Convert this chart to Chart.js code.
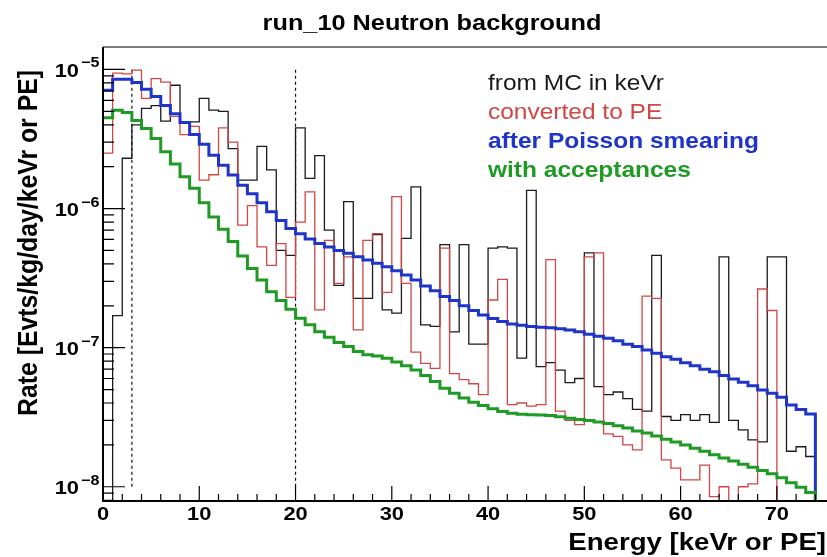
<!DOCTYPE html>
<html>
<head>
<meta charset="utf-8">
<script src="https://cdn.jsdelivr.net/npm/chart.js@4.4.1/dist/chart.umd.min.js"></script>
<style>
  body { margin: 0; background: #fff; }
  #chart { display: block; }
</style>
</head>
<body>
<canvas id="chart" width="827" height="557"></canvas>
<script>
// histogram bins: low edge of each 1 keV bin
var binLow = [];
for (var i = 0; i < 75; i++) binLow.push(i);
var xMin = 0, xMax = 75;
var yMin = 7.9e-9, yMax = 1.45e-5;

// dashed cut lines
var cutX = [3, 20];
var cutY = [1e-8, 1e-5];

// axis labels
var xTickValues = [0, 10, 20, 30, 40, 50, 60, 70];
var xTickLabels = ['0', '10', '20', '30', '40', '50', '60', '70'];
var yTickValues = [1e-8, 1e-7, 1e-6, 1e-5];
var yTickExp = ['\u22128', '\u22127', '\u22126', '\u22125'];

var seriesNames = ['from MC in keVr', 'converted to PE', 'after Poisson smearing', 'with acceptances'];

// from MC in keVr
var mcKeVr = [
  0, 1.7e-7, 2.3e-6, 4.0e-6, 5.25e-6, 5.5e-6, 4.25e-6, 7.7e-6, 4.2e-6, 4.2e-6,
  6.2e-6, 5.1e-6, 5.0e-6, 2.7e-6, 1.6e-6, 1.6e-6, 2.8e-6, 1.9e-6, 5.0e-7, 4.6e-7,
  3.8e-6, 1.65e-6, 2.4e-6, 7.0e-7, 2.8e-7, 1.12e-6, 2.26e-7, 2.26e-7, 6.5e-7, 1.87e-7,
  1.77e-7, 6.1e-7, 1.43e-6, 1.46e-7, 1.42e-7, 5.5e-7, 1.3e-7, 5.5e-7, 1.06e-7, 1.06e-7,
  5.2e-7, 5.3e-7, 5.2e-7, 8.4e-8, 1.35e-6, 7.3e-8, 7.8e-8, 6.9e-8, 5.6e-8, 6.0e-8,
  4.8e-7, 5.25e-8, 4.6e-8, 4.8e-8, 4.3e-8, 3.6e-8, 3.5e-8, 4.6e-7, 3.2e-8, 3.0e-8,
  3.3e-8, 3.0e-8, 3.3e-8, 2.9e-8, 4.5e-7, 3.0e-8, 2.56e-8, 2.17e-8, 2.1e-8, 4.5e-7,
  4.5e-7, 1.8e-8, 1.94e-8, 1.65e-8, 0
];

// converted to PE
var convPE = [
  2.5e-6, 9.4e-6, 9.3e-6, 9.9e-6, 6.2e-6, 8.6e-6, 8.1e-6, 4.6e-6, 3.4e-6, 3.9e-6,
  1.6e-6, 1.75e-6, 3.8e-6, 3.0e-6, 7.6e-7, 1.05e-6, 5.3e-7, 3.9e-7, 5.6e-7, 2.3e-7,
  8.0e-7, 1.32e-6, 1.87e-7, 5.9e-7, 2.9e-7, 4.5e-7, 1.34e-7, 5.9e-7, 6.6e-7, 2.5e-7,
  1.22e-6, 2.9e-7, 9.3e-8, 7.7e-8, 7.1e-8, 5.2e-7, 6.5e-8, 5.9e-8, 5.5e-8, 4.6e-8,
  2.2e-7, 3.1e-7, 3.9e-8, 4.0e-8, 3.8e-8, 3.9e-8, 4.3e-7, 3.5e-8, 3.0e-8, 2.8e-8,
  4.5e-7, 4.8e-7, 2.4e-8, 2.3e-8, 2.0e-8, 1.84e-8, 2.35e-7, 2.26e-7, 1.56e-8, 1.36e-8,
  1.12e-8, 1.12e-8, 1.43e-8, 8.5e-9, 1.0e-8, 0, 1.0e-8, 1.05e-8, 2.64e-7, 1.85e-7,
  0, 0, 0, 0, 0
];

// after Poisson smearing
var smeared = [
  7.1e-6, 8.5e-6, 8.5e-6, 8.05e-6, 7.2e-6, 6.4e-6, 5.5e-6, 4.8e-6, 4.15e-6, 3.4e-6,
  2.9e-6, 2.42e-6, 2.05e-6, 1.74e-6, 1.47e-6, 1.28e-6, 1.1e-6, 9.5e-7, 8.2e-7, 7.2e-7,
  6.6e-7, 6.05e-7, 5.6e-7, 5.3e-7, 5.0e-7, 4.77e-7, 4.5e-7, 4.27e-7, 4.04e-7, 3.82e-7,
  3.57e-7, 3.33e-7, 3.06e-7, 2.77e-7, 2.57e-7, 2.33e-7, 2.18e-7, 2.0e-7, 1.85e-7, 1.72e-7,
  1.62e-7, 1.54e-7, 1.48e-7, 1.45e-7, 1.42e-7, 1.40e-7, 1.39e-7, 1.37e-7, 1.34e-7, 1.30e-7,
  1.25e-7, 1.21e-7, 1.17e-7, 1.12e-7, 1.06e-7, 1.02e-7, 9.6e-8, 9.1e-8, 8.6e-8, 8.25e-8,
  7.8e-8, 7.4e-8, 7.0e-8, 6.7e-8, 6.3e-8, 5.96e-8, 5.64e-8, 5.33e-8, 4.97e-8, 4.7e-8,
  4.4e-8, 3.87e-8, 3.6e-8, 3.34e-8, 0
];

// with acceptances
var accepted = [
  4.5e-6, 5.1e-6, 4.9e-6, 4.3e-6, 3.77e-6, 3.19e-6, 2.56e-6, 2.09e-6, 1.69e-6, 1.40e-6,
  1.1e-6, 8.7e-7, 7.1e-7, 5.8e-7, 4.56e-7, 3.7e-7, 3.06e-7, 2.52e-7, 2.18e-7, 1.89e-7,
  1.63e-7, 1.46e-7, 1.30e-7, 1.19e-7, 1.09e-7, 1.02e-7, 9.4e-8, 8.9e-8, 8.7e-8, 8.4e-8,
  7.9e-8, 7.4e-8, 6.9e-8, 6.3e-8, 5.7e-8, 5.1e-8, 4.7e-8, 4.35e-8, 4.05e-8, 3.84e-8,
  3.63e-8, 3.47e-8, 3.38e-8, 3.32e-8, 3.3e-8, 3.28e-8, 3.25e-8, 3.18e-8, 3.11e-8, 3.04e-8,
  2.99e-8, 2.92e-8, 2.85e-8, 2.74e-8, 2.64e-8, 2.52e-8, 2.43e-8, 2.32e-8, 2.2e-8, 2.1e-8,
  2.0e-8, 1.89e-8, 1.8e-8, 1.7e-8, 1.61e-8, 1.53e-8, 1.45e-8, 1.38e-8, 1.31e-8, 1.24e-8,
  1.16e-8, 1.07e-8, 9.9e-9, 9.1e-9, 0
];

var colBlack = '#1a1a1a';
var colRed = '#d24646';
var colBlue = '#1f34c8';
var colGreen = '#1f9a24';
var SX = 1.15; // ROOT canvas was stretched sideways a bit

// empty bins go to the bottom of the frame like ROOT does
function histPoints(vals) {
  var pts = [];
  for (var i = 0; i < vals.length; i++) {
    pts.push({ x: binLow[i], y: vals[i] > 0 ? vals[i] : yMin / 3 });
  }
  pts.push({ x: binLow[binLow.length - 1] + 1, y: yMin / 3 });
  return pts;
}

function histSet(label, vals, color, width, order) {
  return {
    label: label,
    data: histPoints(vals),
    borderColor: color,
    borderWidth: width,
    stepped: 'before',
    pointRadius: 0,
    fill: false,
    order: order
  };
}

function cutSet(x) {
  return {
    label: 'cut',
    data: [{ x: x, y: cutY[0] }, { x: x, y: cutY[1] }],
    borderColor: '#111',
    borderWidth: 1.2,
    borderDash: [3, 3],
    pointRadius: 0,
    order: 6
  };
}

function stretchText(ctx, txt, x, y, font, color, align) {
  ctx.save();
  ctx.font = font;
  ctx.fillStyle = color;
  ctx.textAlign = align;
  ctx.textBaseline = 'alphabetic';
  ctx.translate(x, y);
  ctx.scale(SX, 1);
  ctx.fillText(txt, 0, 0);
  ctx.restore();
}

// frame, inner ticks and all the ROOT style text
var rootFrame = {
  id: 'rootFrame',
  afterDraw: function(chart) {
    var ctx = chart.ctx;
    var a = chart.chartArea;
    var xs = chart.scales.x, ys = chart.scales.y;

    ctx.save();
    // frame (right edge is cut off in the original)
    ctx.strokeStyle = '#555';
    ctx.lineWidth = 1.5;
    ctx.beginPath();
    ctx.moveTo(a.left, a.top);
    ctx.lineTo(chart.width, a.top);
    ctx.stroke();
    ctx.strokeStyle = '#000';
    ctx.lineWidth = 2;
    ctx.beginPath();
    ctx.moveTo(a.left, a.top);
    ctx.lineTo(a.left, a.bottom);
    ctx.lineTo(chart.width, a.bottom);
    ctx.stroke();

    // x ticks, every 2 with major every 10
    ctx.lineWidth = 1.2;
    ctx.beginPath();
    for (var v = xMin; v <= xMax; v += 2) {
      var px = xs.getPixelForValue(v);
      var len = (v % 10 === 0) ? 15 : 7;
      ctx.moveTo(px, a.bottom);
      ctx.lineTo(px, a.bottom - len);
    }
    // y ticks, log decades
    for (var d = -9; d <= -5; d++) {
      for (var k = 1; k <= 9; k++) {
        var val = k * Math.pow(10, d);
        if (val < yMin || val > yMax) continue;
        var py = ys.getPixelForValue(val);
        var l = (k === 1) ? 22 : 11;
        ctx.moveTo(a.left, py);
        ctx.lineTo(a.left + l, py);
      }
    }
    ctx.stroke();

    // tick labels
    xTickValues.forEach(function(v, i) {
      stretchText(ctx, xTickLabels[i], xs.getPixelForValue(v), 520, 'bold 19px "Liberation Sans", Arial', '#000', 'center');
    });
    yTickValues.forEach(function(v, i) {
      var py = ys.getPixelForValue(v);
      stretchText(ctx, '10', 79, py + 7.5, 'bold 19px "Liberation Sans", Arial', '#000', 'right');
      stretchText(ctx, yTickExp[i], 81, py - 2, 'bold 14px "Liberation Sans", Arial', '#000', 'left');
    });

    // titles
    stretchText(ctx, 'run_10 Neutron background', 432, 30, 'bold 22px "Liberation Sans", Arial', '#000', 'center');
    stretchText(ctx, 'Energy [keVr or PE]', 826, 550, 'bold 24px "Liberation Sans", Arial', '#000', 'right');

    ctx.save();
    ctx.translate(37, 70);
    ctx.rotate(-Math.PI / 2);
    ctx.scale(1, SX);
    ctx.font = 'bold 24.8px "Liberation Sans", Arial';
    ctx.fillStyle = '#000';
    ctx.textAlign = 'right';
    ctx.textBaseline = 'alphabetic';
    ctx.fillText('Rate [Evts/kg/day/keVr or PE]', 0, 0);
    ctx.restore();

    // series labels written inside the frame
    stretchText(ctx, seriesNames[0], 488, 89.5, '21.3px "Liberation Sans", Arial', colBlack, 'left');
    stretchText(ctx, seriesNames[1], 488, 118.5, '21.3px "Liberation Sans", Arial', colRed, 'left');
    stretchText(ctx, seriesNames[2], 488, 147.5, 'bold 21.3px "Liberation Sans", Arial', colBlue, 'left');
    stretchText(ctx, seriesNames[3], 488, 176.5, 'bold 21.3px "Liberation Sans", Arial', colGreen, 'left');
    ctx.restore();
  }
};

new Chart(document.getElementById('chart'), {
  type: 'line',
  data: {
    datasets: [
      histSet(seriesNames[0], mcKeVr, colBlack, 1.3, 5),
      histSet(seriesNames[1], convPE, colRed, 1.3, 4),
      histSet(seriesNames[2], smeared, colBlue, 3, 2),
      histSet(seriesNames[3], accepted, colGreen, 3, 1),
      cutSet(cutX[0]),
      cutSet(cutX[1])
    ]
  },
  options: {
    responsive: false,
    animation: false,
    devicePixelRatio: 1,
    layout: { padding: { left: 103, top: 47, right: 2, bottom: 56 } },
    elements: { line: { tension: 0 } },
    scales: {
      x: { type: 'linear', min: xMin, max: xMax, display: false },
      y: { type: 'logarithmic', min: yMin, max: yMax, display: false }
    },
    plugins: {
      legend: { display: false },
      title: { display: false },
      tooltip: { enabled: false }
    }
  },
  plugins: [rootFrame]
});
</script>
</body>
</html>
